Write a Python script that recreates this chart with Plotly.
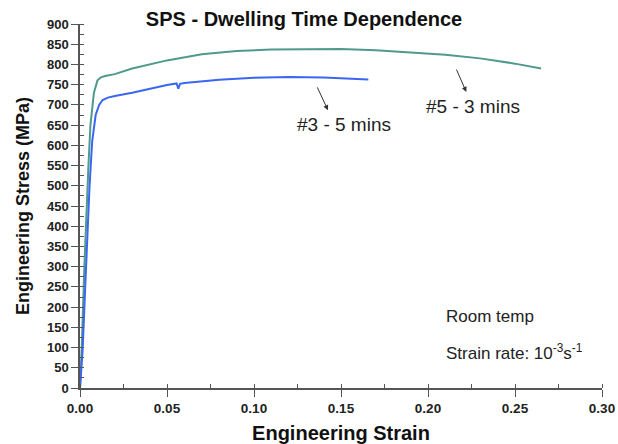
import plotly.graph_objects as go

# Data
strain_5 = [0.0, 0.001, 0.0025, 0.004, 0.0045, 0.0048, 0.006, 0.008, 0.010, 0.012, 0.015, 0.020,
            0.030, 0.040, 0.050, 0.070, 0.090, 0.110, 0.130, 0.150, 0.170, 0.190, 0.210,
            0.230, 0.250, 0.265]
stress_5 = [0, 100, 300, 480, 540, 545, 650, 730, 760, 768, 772, 776,
            790, 800, 810, 825, 833, 837, 838, 838, 835, 830, 824,
            815, 802, 790]

strain_3 = [0.0, 0.0015, 0.0030, 0.0045, 0.0055, 0.0070, 0.0090, 0.0110, 0.0130, 0.0160,
            0.020, 0.030, 0.040, 0.050, 0.0555, 0.0565, 0.0575, 0.060, 0.080, 0.100,
            0.120, 0.140, 0.1657]
stress_3 = [0, 93, 250, 420, 500, 610, 675, 700, 712, 718,
            722, 730, 740, 749, 753, 740, 752, 754, 762, 767,
            769, 768, 763]

x_ticks = [0.00, 0.05, 0.10, 0.15, 0.20, 0.25, 0.30]
x_tick_labels = ["0.00", "0.05", "0.10", "0.15", "0.20", "0.25", "0.30"]
y_ticks = list(range(0, 901, 50))

FONT = "Arial, Liberation Sans, sans-serif"
AXC = "#555555"

fig = go.Figure()
fig.add_trace(go.Scatter(x=strain_5, y=stress_5, mode="lines",
                         line=dict(color="#4f9a8c", width=2), name="#5 - 3 mins"))
fig.add_trace(go.Scatter(x=strain_3, y=stress_3, mode="lines",
                         line=dict(color="#3a66f0", width=2), name="#3 - 5 mins"))

axis_common = dict(showgrid=False, zeroline=False, showline=True, linecolor=AXC,
                   linewidth=1.5, ticks="outside", ticklen=7, tickwidth=1.3,
                   tickcolor=AXC, automargin=False)

fig.update_xaxes(range=[0, 0.3], tickvals=x_ticks, ticktext=x_tick_labels,
                 tickfont=dict(family=FONT, size=13.5, color="#222222", weight="bold"),
                 minor=dict(ticks="inside", ticklen=4, dtick=0.025, tickcolor=AXC, tickwidth=1.2),
                 title=dict(text="Engineering Strain",
                            font=dict(family=FONT, size=20, color="#111111", weight="bold"),
                            standoff=11),
                 **axis_common)
fig.update_yaxes(range=[0, 900], tickvals=y_ticks,
                 tickfont=dict(family=FONT, size=13, color="#222222", weight="bold"),
                 minor=dict(ticks="inside", ticklen=4, dtick=25, tickcolor=AXC, tickwidth=1.2),
                 title=dict(text="Engineering Stress (MPa)",
                            font=dict(family=FONT, size=18, color="#111111", weight="bold"),
                            standoff=13),
                 **axis_common)

fig.update_layout(
    width=618, height=444,
    margin=dict(l=80, r=16, t=24, b=56),
    plot_bgcolor="white", paper_bgcolor="white",
    showlegend=False,
    title=dict(text="SPS - Dwelling Time Dependence",
               font=dict(family=FONT, size=20, color="#111111", weight="bold"),
               xref="container", x=0.492, xanchor="center",
               yref="container", y=1 - 19 / 444, yanchor="middle"),
)

# Labels with arrows
fig.add_annotation(x=0.1425, y=687, ax=0.136, ay=747, xref="x", yref="y", axref="x", ayref="y",
                   showarrow=True, arrowhead=2, arrowsize=1, arrowwidth=1, arrowcolor="#333333",
                   text="")
fig.add_annotation(x=0.152, y=652, xref="x", yref="y", showarrow=False,
                   text="#3 - 5 mins", font=dict(family=FONT, size=19, color="#222222"))
fig.add_annotation(x=0.222, y=732, ax=0.216, ay=791, xref="x", yref="y", axref="x", ayref="y",
                   showarrow=True, arrowhead=2, arrowsize=1, arrowwidth=1, arrowcolor="#333333",
                   text="")
fig.add_annotation(x=0.2256, y=695, xref="x", yref="y", showarrow=False,
                   text="#5 - 3 mins", font=dict(family=FONT, size=19, color="#222222"))

fig.add_annotation(x=0.209, y=176, xref="x", yref="y", showarrow=False, xanchor="left",
                   text="Room temp", font=dict(family=FONT, size=17, color="#222222"))
fig.add_annotation(x=0.209, y=90, xref="x", yref="y", showarrow=False, xanchor="left",
                   text="Strain rate: 10<sup>-3</sup>s<sup>-1</sup>",
                   font=dict(family=FONT, size=17, color="#222222"))

fig.write_html("out.html")
